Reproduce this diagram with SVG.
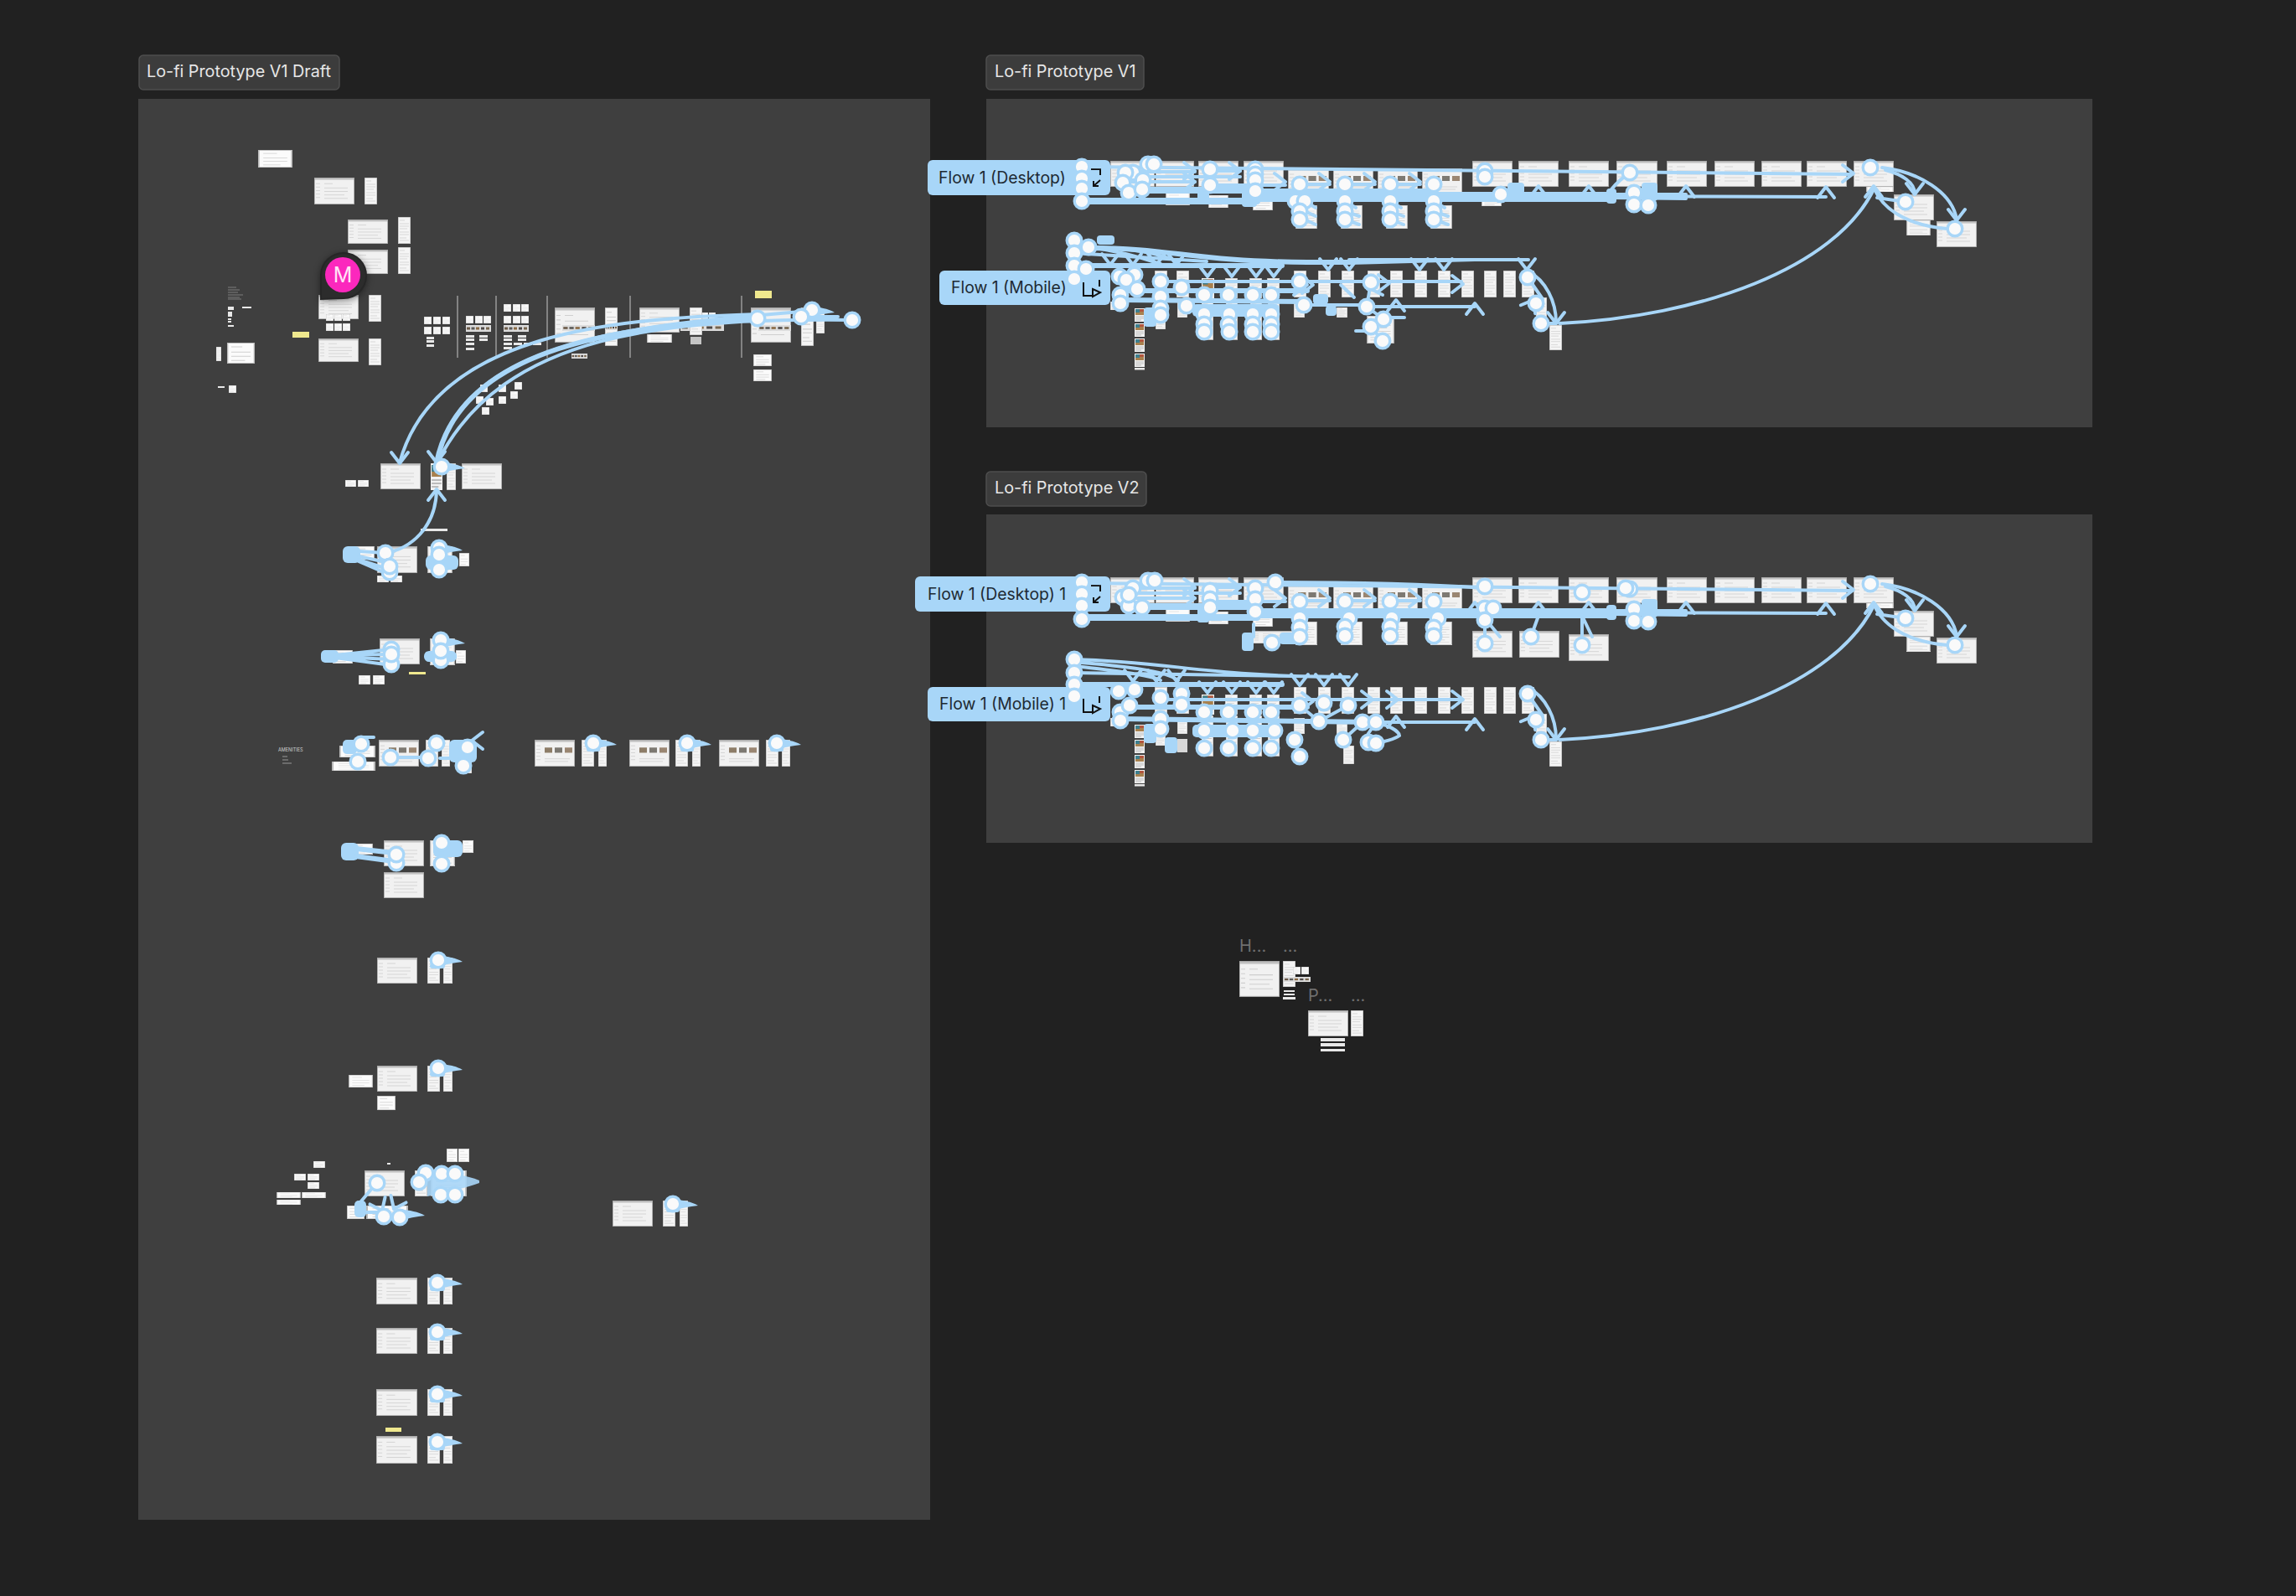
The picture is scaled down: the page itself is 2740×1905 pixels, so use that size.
<svg xmlns="http://www.w3.org/2000/svg" width="2740" height="1905" viewBox="0 0 2740 1905">
<style>
text{font-family:Inter,"Noto Sans","Liberation Sans",sans-serif}
.panel{fill:#3f3f3f}
.pill{fill:#3c3c3c;stroke:#4e4e4e;stroke-width:1.5}
.pt{font-size:19.800px;fill:#e6e6e6}
.flow{fill:#a8d6f8}
.ft{font-size:19.400px;fill:#1e2a33}
.gt{font-size:20px;fill:#6f6f6f}
.l{fill:none;stroke:#a8d6f8;stroke-width:4;stroke-linecap:round}
.w5{stroke-width:6}.w8{stroke-width:8}.w12{stroke-width:12}
.b{fill:#a8d6f8}
.o{fill:#fafafa;stroke:#a8d6f8;stroke-width:3.400;r:8.800px}
.ch{fill:none;stroke:#a8d6f8;stroke-width:4;stroke-linecap:round;stroke-linejoin:round}
.v{stroke:#9a9a9a;stroke-width:1.5}
.bar{fill:#e8e8e8}
.y{fill:#efe88e}
.ic{fill:none;stroke:#111;stroke-width:2}
</style>
<defs>
<symbol id="d" viewBox="0 0 48 31" preserveAspectRatio="none"><rect width="48" height="31" fill="#f1f1f1"/><rect width="48" height="2.600" fill="#c2c2c2"/><path d="M2 7h5M2 11h5M2 15h5M2 19h5M2 23h5M12 7h10M12 12h28M12 16h28M12 20h24M12 24h28" stroke="#cfcfcf" stroke-width=".8"/><rect x=".4" y=".4" width="47.200" height="30.200" fill="none" stroke="#a6a6a6" stroke-width=".8"/></symbol>
<symbol id="dp" viewBox="0 0 48 31" preserveAspectRatio="none"><rect width="48" height="31" fill="#f1f1f1"/><rect width="48" height="2.600" fill="#c2c2c2"/><path d="M2 7h5M2 11h5M2 15h5M2 19h5M2 23h5M12 22h30M12 25h28" stroke="#cfcfcf" stroke-width=".8"/><rect x="12" y="9" width="9" height="6" fill="#8d7d68"/><rect x="24" y="9" width="9" height="6" fill="#7d7972"/><rect x="36" y="9" width="9" height="6" fill="#9a8672"/><rect x=".4" y=".4" width="47.200" height="30.200" fill="none" stroke="#a6a6a6" stroke-width=".8"/></symbol>
<symbol id="m" viewBox="0 0 15 32" preserveAspectRatio="none"><rect width="15" height="32" fill="#f5f5f5"/><path d="M2 4h6M2 8h11M2 11h11M2 14h9M2 18h11M2 21h11M2 25h8M2 28h11" stroke="#cdcdcd" stroke-width=".7"/><rect x=".3" y=".3" width="14.400" height="31.400" fill="none" stroke="#b0b0b0" stroke-width=".6"/></symbol>
<symbol id="c" viewBox="0 0 10 10" preserveAspectRatio="none"><rect width="10" height="10" fill="#fbfbfb"/><path d="M1.500 2h4M1.500 4.500h7M1.500 6.500h7M1.500 8.500h5" stroke="#d0d0d0" stroke-width=".4"/><rect x=".2" y=".2" width="9.600" height="9.600" fill="none" stroke="#bbb" stroke-width=".4"/></symbol>
<symbol id="s" viewBox="0 0 30 8" preserveAspectRatio="none"><rect width="30" height="8" fill="#dcdcdc"/><rect x="1" y="2.500" width="4" height="3" fill="#6b5a48"/><rect x="6.500" y="2.500" width="4" height="3" fill="#5a5a58"/><rect x="12" y="2.500" width="4" height="3" fill="#8a6a44"/><rect x="18" y="2.500" width="4" height="3" fill="#4f4a48"/><rect x="24" y="2.500" width="4" height="3" fill="#77664f"/></symbol>
<symbol id="t" viewBox="0 0 12 16" preserveAspectRatio="none"><rect width="12" height="16" fill="#f2f2f2"/><rect x="1" y="1" width="10" height="7" fill="#a8814f"/><rect x="1" y="1" width="5" height="4" fill="#3e7f8e"/><rect x="6" y="1" width="5" height="3" fill="#b0563f"/><path d="M1 10h10M1 12h10M1 14h7" stroke="#aaa" stroke-width=".7"/></symbol>
<g id="cd"><path class="ch" d="M-10 -13L0 0L10 -13"/></g>
<g id="cu"><path class="ch" d="M-10 13L0 0L10 13"/></g>
<g id="cr"><path class="ch" d="M-13 -10L0 0L-13 10"/></g>
<g id="cl"><path class="ch" d="M13 -10L0 0L13 10"/></g>
<path id="st" class="b" d="M0 -6C12 -4 22 -3 30 2C20 3 10 5 0 8Z"/>
<g id="sharedScreens">
<use href="#d" x="1325" y="192" width="53" height="31"/><use href="#d" x="1379" y="192" width="46" height="31"/><use href="#d" x="1430" y="192" width="48" height="31"/><use href="#d" x="1484" y="192" width="48" height="31"/>
<use href="#dp" x="1537" y="201" width="49" height="31"/><use href="#dp" x="1591" y="201" width="48" height="31"/><use href="#dp" x="1644" y="201" width="48" height="31"/><use href="#dp" x="1697" y="201" width="48" height="31"/>
<use href="#d" x="1757" y="192" width="48" height="31"/><use href="#d" x="1812" y="192" width="48" height="31"/><use href="#d" x="1872" y="192" width="48" height="31"/><use href="#d" x="1929" y="192" width="49" height="31"/><use href="#d" x="1989" y="192" width="48" height="31"/><use href="#d" x="2046" y="192" width="48" height="31"/><use href="#d" x="2102" y="192" width="48" height="31"/><use href="#d" x="2156" y="192" width="48" height="31"/><use href="#d" x="2212" y="192" width="48" height="31"/>
<use href="#c" x="2227" y="223" width="33" height="6"/><use href="#d" x="2260" y="232" width="48" height="31"/><use href="#m" x="2275" y="263" width="29" height="18"/><use href="#d" x="2311" y="264" width="48" height="31"/>
<use href="#c" x="1391" y="230" width="29" height="15"/><use href="#m" x="1442" y="233" width="24" height="15"/><use href="#c" x="1495" y="235" width="24" height="16"/>
<use href="#m" x="1546" y="245" width="26" height="28"/><use href="#m" x="1600" y="245" width="26" height="28"/><use href="#m" x="1654" y="245" width="26" height="28"/><use href="#m" x="1707" y="245" width="26" height="28"/>
<use href="#m" x="1378" y="323" width="15" height="32"/><use href="#m" x="1404" y="323" width="15" height="32"/><use href="#t" x="1434" y="332" width="15" height="24"/><use href="#m" x="1462" y="332" width="15" height="24"/><use href="#m" x="1491" y="332" width="15" height="24"/><use href="#m" x="1512" y="332" width="15" height="24"/>
<use href="#m" x="1544" y="323" width="15" height="32"/><use href="#m" x="1573" y="323" width="15" height="32"/><use href="#m" x="1601" y="323" width="15" height="32"/><use href="#m" x="1632" y="323" width="15" height="32"/><use href="#m" x="1659" y="323" width="15" height="32"/><use href="#m" x="1688" y="323" width="15" height="32"/><use href="#m" x="1716" y="323" width="15" height="32"/><use href="#m" x="1744" y="323" width="15" height="32"/><use href="#m" x="1771" y="323" width="15" height="32"/><use href="#m" x="1794" y="323" width="15" height="32"/><use href="#m" x="1816" y="323" width="15" height="32"/>
<use href="#m" x="1325" y="360" width="15" height="10"/><use href="#t" x="1354" y="368" width="12" height="16"/><use href="#t" x="1354" y="386" width="12" height="16"/><use href="#t" x="1354" y="404" width="12" height="16"/><use href="#t" x="1354" y="422" width="12" height="16"/><rect class="bar" x="1354" y="439" width="12" height="2.500"/>
<use href="#m" x="1379" y="377" width="12" height="16"/><use href="#m" x="1405" y="360" width="12" height="19"/><use href="#m" x="1434" y="357" width="14" height="49"/><use href="#m" x="1463" y="357" width="14" height="49"/><use href="#m" x="1492" y="357" width="14" height="49"/><use href="#m" x="1513" y="357" width="14" height="49"/><use href="#m" x="1544" y="360" width="13" height="19"/>
<use href="#m" x="1833" y="355" width="13" height="32"/><use href="#m" x="1849" y="388" width="15" height="30"/>
</g>
<g id="endWires">
<path class="l" d="M1291 199C1500 199 1760 203 2210 208"/>
<path class="l" d="M1861 386C2030 378 2190 320 2236 226"/>
<path class="l" d="M2246 200C2290 205 2330 230 2335 262"/>
<path class="l" d="M2250 203C2270 208 2285 218 2285 231"/>
<path class="l" d="M2274 241L2240 236"/>
<path class="l" d="M2324 273C2285 270 2250 255 2237 226"/>
<use href="#cu" x="2236" y="222"/><use href="#cd" x="2335" y="263"/><use href="#cd" x="2285" y="232"/><use href="#cr" x="2212" y="207"/>
<path class="l" d="M1823 323C1845 335 1857 360 1857 385"/><path class="l" d="M1823 331L1841 357"/><path class="l" d="M1839 386L1857 386"/>
<use href="#cd" x="1857" y="386"/><use href="#cu" x="1830" y="358" transform="rotate(30 1830 358)"/>
<circle class="o" cx="2232" cy="200"/><circle class="o" cx="2274" cy="241"/><circle class="o" cx="2333" cy="273"/>
<circle class="o" cx="1823" cy="331"/><circle class="o" cx="1833" cy="362"/><circle class="o" cx="1839" cy="386"/>
</g>
</defs>
<rect width="2740" height="1905" fill="#212121"/>
<rect class="panel" x="165" y="118" width="945" height="1696"/>
<rect class="panel" x="1177" y="118" width="1320" height="392"/>
<rect class="panel" x="1177" y="614" width="1320" height="392"/>
<g id="title-draft"><rect class="pill" x="166" y="66" width="239" height="41" rx="5"/><text class="pt" x="175" y="92">Lo-fi Prototype V1 Draft</text></g>
<g id="title-v1"><rect class="pill" x="1177" y="66" width="188" height="41" rx="5"/><text class="pt" x="1187" y="92">Lo-fi Prototype V1</text></g>
<g id="title-v2"><rect class="pill" x="1177" y="563" width="191" height="41" rx="5"/><text class="pt" x="1187" y="589">Lo-fi Prototype V2</text></g>

<g id="draft-top">
<use href="#c" x="308" y="179" width="41" height="21"/>
<use href="#d" x="375" y="212" width="48" height="32"/><use href="#m" x="435" y="212" width="15" height="32"/>
<use href="#d" x="415" y="262" width="48" height="29"/><use href="#m" x="475" y="259" width="15" height="32"/>
<use href="#d" x="415" y="298" width="48" height="29"/><use href="#m" x="475" y="295" width="15" height="32"/>
<use href="#d" x="380" y="352" width="48" height="29"/><use href="#c" x="389" y="375" width="9" height="8"/><use href="#c" x="399" y="375" width="9" height="8"/><use href="#c" x="409" y="375" width="9" height="8"/><use href="#c" x="389" y="386" width="9" height="9"/><use href="#c" x="399" y="386" width="9" height="9"/><use href="#c" x="409" y="386" width="9" height="9"/><use href="#m" x="440" y="352" width="15" height="32"/>
<use href="#d" x="380" y="404" width="48" height="28"/><use href="#m" x="440" y="404" width="15" height="32"/>
<use href="#m" x="258" y="414" width="6" height="17"/><use href="#c" x="271" y="409" width="33" height="25"/>
<use href="#c" x="273" y="460" width="9" height="9"/><rect class="bar" x="260" y="461" width="8" height="2"/>
<rect class="y" x="349" y="396" width="20" height="7"/>
<path d="M272 343h10M272 346h14M272 349h12M272 352h18M272 355h14M272 357h16" stroke="#8e8e8e" stroke-width=".8"/>
<rect class="bar" x="272" y="366" width="7" height="4"/><rect class="bar" x="289" y="366" width="11" height="2"/><rect class="bar" x="272" y="372" width="5" height="6"/><rect class="bar" x="272" y="380" width="4" height="2"/><rect class="bar" x="272" y="383" width="4" height="2"/><rect class="bar" x="272" y="388" width="7" height="2"/>
</g>
<g id="draft-styles">
<path class="v" d="M546 353V427M592 353V427M653 353V427M752 353V427M885 353V427"/>
<use href="#c" x="506" y="378" width="9" height="9"/><use href="#c" x="517" y="378" width="9" height="9"/><use href="#c" x="528" y="378" width="9" height="9"/><use href="#c" x="506" y="390" width="9" height="9"/><use href="#c" x="517" y="390" width="9" height="9"/><use href="#c" x="528" y="390" width="9" height="9"/>
<rect class="bar" x="509" y="402" width="9" height="3"/><rect class="bar" x="509" y="406" width="9" height="3"/><rect class="bar" x="509" y="411" width="9" height="3"/>
<use href="#c" x="556" y="377" width="9" height="9"/><use href="#c" x="567" y="377" width="9" height="9"/><use href="#c" x="577" y="377" width="9" height="9"/><use href="#s" x="556" y="388" width="30" height="8"/>
<rect class="bar" x="556" y="400" width="10" height="3"/><rect class="bar" x="556" y="404" width="10" height="3"/><rect class="bar" x="556" y="409" width="10" height="3"/><rect class="bar" x="556" y="415" width="10" height="3"/><rect class="bar" x="572" y="400" width="10" height="3"/><rect class="bar" x="572" y="404" width="10" height="3"/>
<use href="#c" x="601" y="363" width="9" height="9"/><use href="#c" x="612" y="363" width="9" height="9"/><use href="#c" x="622" y="363" width="9" height="9"/><use href="#c" x="601" y="377" width="9" height="9"/><use href="#c" x="612" y="377" width="9" height="9"/><use href="#c" x="622" y="377" width="9" height="9"/><use href="#s" x="601" y="388" width="30" height="8"/>
<rect class="bar" x="601" y="400" width="10" height="3"/><rect class="bar" x="601" y="404" width="10" height="3"/><rect class="bar" x="618" y="400" width="10" height="3"/><rect class="bar" x="618" y="404" width="10" height="3"/><rect class="bar" x="601" y="409" width="10" height="3"/><rect class="bar" x="613" y="409" width="10" height="3"/><rect class="bar" x="625" y="409" width="10" height="3"/><rect class="bar" x="636" y="409" width="10" height="3"/><rect class="bar" x="601" y="414" width="10" height="3"/>
<use href="#d" x="662" y="367" width="48" height="42"/><use href="#s" x="671" y="388" width="39" height="7"/><use href="#m" x="722" y="367" width="15" height="46"/><use href="#s" x="722" y="388" width="15" height="6"/><use href="#s" x="682" y="422" width="19" height="6"/>
<use href="#d" x="763" y="367" width="48" height="30"/><use href="#c" x="772" y="399" width="30" height="10"/><use href="#s" x="812" y="387" width="52" height="8"/><use href="#m" x="823" y="367" width="15" height="33"/><rect x="824" y="402" width="13" height="9" fill="#c4c4c4"/><use href="#c" x="838" y="373" width="7" height="8"/><use href="#c" x="846" y="373" width="8" height="8"/>
<use href="#d" x="896" y="367" width="48" height="42"/><use href="#s" x="905" y="388" width="39" height="7"/><use href="#m" x="956" y="367" width="15" height="46"/><use href="#m" x="974" y="373" width="10" height="25"/>
<use href="#c" x="899" y="423" width="22" height="14"/><use href="#c" x="899" y="441" width="22" height="14"/><rect class="y" x="901" y="347" width="20" height="9"/>
<use href="#c" x="573" y="459" width="9" height="9"/><use href="#c" x="595" y="459" width="9" height="9"/><use href="#c" x="614" y="456" width="9" height="9"/><use href="#c" x="609" y="467" width="9" height="9"/><use href="#c" x="595" y="473" width="9" height="9"/><use href="#c" x="580" y="475" width="9" height="9"/><use href="#c" x="568" y="473" width="9" height="9"/><use href="#c" x="575" y="486" width="9" height="9"/>
</g>
<g id="draft-rows">
<use href="#d" x="454" y="553" width="48" height="31"/><use href="#t" x="514" y="553" width="14" height="32"/><use href="#m" x="533" y="553" width="11" height="32"/><use href="#d" x="551" y="553" width="48" height="31"/><use href="#c" x="412" y="573" width="13" height="8"/><use href="#c" x="427" y="573" width="13" height="8"/><rect class="bar" x="502" y="631" width="32" height="3"/>
<use href="#d" x="450" y="652" width="48" height="32"/><use href="#c" x="423" y="652" width="24" height="16"/><use href="#m" x="510" y="652" width="30" height="32"/><use href="#c" x="548" y="660" width="12" height="16"/><use href="#c" x="450" y="687" width="14" height="8"/><use href="#c" x="466" y="687" width="14" height="8"/>
<use href="#d" x="453" y="762" width="48" height="31"/><use href="#c" x="397" y="776" width="24" height="16"/><use href="#m" x="513" y="762" width="30" height="32"/><use href="#c" x="544" y="776" width="12" height="16"/><rect class="y" x="488" y="802" width="20" height="3"/><use href="#c" x="428" y="806" width="14" height="11"/><use href="#c" x="445" y="806" width="14" height="11"/>
<text x="332" y="897" font-size="5.500" fill="#cfcfcf">AMENITIES</text><path d="M337 903h6M337 907h7M337 911h11" stroke="#b0b0b0" stroke-width=".8"/>
<use href="#dp" x="452" y="883" width="48" height="32"/><use href="#c" x="405" y="890" width="43" height="14"/><use href="#c" x="396" y="909" width="52" height="11"/><use href="#m" x="508" y="883" width="15" height="32"/><use href="#m" x="527" y="883" width="10" height="32"/><use href="#m" x="554" y="905" width="9" height="18"/>
<use href="#dp" x="638" y="883" width="48" height="32"/><use href="#m" x="694" y="883" width="15" height="32"/><use href="#m" x="714" y="883" width="10" height="32"/>
<use href="#dp" x="751" y="883" width="48" height="32"/><use href="#m" x="806" y="883" width="15" height="32"/><use href="#m" x="826" y="883" width="10" height="32"/>
<use href="#dp" x="858" y="883" width="48" height="32"/><use href="#m" x="914" y="883" width="15" height="32"/><use href="#m" x="933" y="883" width="10" height="32"/>
<use href="#d" x="458" y="1003" width="48" height="31"/><use href="#d" x="458" y="1041" width="48" height="31"/><use href="#c" x="418" y="1007" width="27" height="13"/><use href="#m" x="513" y="1003" width="30" height="31"/><use href="#c" x="552" y="1003" width="13" height="15"/>
<use href="#d" x="450" y="1143" width="48" height="31"/><use href="#m" x="510" y="1143" width="15" height="31"/><use href="#m" x="529" y="1143" width="11" height="31"/>
<use href="#d" x="450" y="1272" width="48" height="31"/><use href="#m" x="510" y="1272" width="15" height="31"/><use href="#m" x="529" y="1272" width="11" height="31"/><use href="#c" x="416" y="1283" width="29" height="15"/><use href="#c" x="450" y="1308" width="22" height="17"/>
<use href="#d" x="435" y="1397" width="48" height="31"/><rect class="bar" x="462" y="1388" width="4" height="2"/><use href="#c" x="414" y="1439" width="21" height="16"/><use href="#c" x="437" y="1439" width="50" height="16"/><use href="#m" x="495" y="1397" width="15" height="31"/><use href="#m" x="514" y="1397" width="43" height="31"/><use href="#c" x="533" y="1371" width="13" height="16"/><use href="#c" x="547" y="1371" width="13" height="16"/>
<use href="#c" x="374" y="1386" width="14" height="8"/><use href="#c" x="351" y="1401" width="14" height="8"/><use href="#c" x="367" y="1401" width="14" height="8"/><use href="#c" x="367" y="1411" width="14" height="8"/><use href="#c" x="330" y="1423" width="29" height="7"/><use href="#c" x="360" y="1423" width="29" height="7"/><use href="#c" x="330" y="1432" width="29" height="6"/>
<use href="#d" x="731" y="1433" width="48" height="31"/><use href="#m" x="791" y="1433" width="15" height="31"/><use href="#m" x="811" y="1433" width="10" height="31"/>
<use href="#d" x="449" y="1525" width="49" height="32"/><use href="#m" x="510" y="1525" width="15" height="32"/><use href="#m" x="529" y="1525" width="11" height="32"/>
<use href="#d" x="449" y="1585" width="49" height="31"/><use href="#m" x="510" y="1585" width="15" height="31"/><use href="#m" x="529" y="1585" width="11" height="31"/>
<use href="#d" x="449" y="1658" width="49" height="32"/><use href="#m" x="510" y="1658" width="15" height="32"/><use href="#m" x="529" y="1658" width="11" height="32"/>
<rect class="y" x="460" y="1704" width="19" height="5"/><use href="#d" x="449" y="1714" width="49" height="33"/><use href="#m" x="510" y="1714" width="15" height="33"/><use href="#m" x="529" y="1714" width="11" height="33"/>
</g>
<g id="loose-screens">
<text class="gt" x="1479" y="1136">H...</text><text class="gt" x="1531" y="1136">...</text>
<use href="#d" x="1479" y="1147" width="48" height="43"/><use href="#m" x="1531" y="1147" width="15" height="31"/><use href="#c" x="1543" y="1154" width="9" height="9"/><use href="#c" x="1553" y="1154" width="9" height="9"/><use href="#s" x="1532" y="1166" width="32" height="6"/><rect class="bar" x="1532" y="1182" width="13" height="2"/><rect class="bar" x="1532" y="1186" width="13" height="2"/><rect class="bar" x="1531" y="1190" width="15" height="3"/>
<text class="gt" x="1561" y="1195">P...</text><text class="gt" x="1612" y="1195">...</text>
<use href="#d" x="1561" y="1206" width="48" height="31"/><use href="#m" x="1612" y="1206" width="15" height="31"/><rect class="bar" x="1576" y="1239" width="29" height="4"/><rect class="bar" x="1576" y="1245" width="29" height="4"/><rect class="bar" x="1576" y="1252" width="29" height="3"/>
</g>

<g id="screens-v1"><use href="#sharedScreens"/><use href="#m" x="1595" y="367" width="13" height="12"/><use href="#m" x="1631" y="377" width="33" height="33"/><use href="#c" x="1768" y="235" width="24" height="11"/></g>
<g id="screens-v2"><use href="#sharedScreens" y="497"/><use href="#d" x="1757" y="753" width="48" height="32"/><use href="#d" x="1813" y="753" width="48" height="32"/><use href="#d" x="1872" y="757" width="48" height="32"/><use href="#d" x="1495" y="753" width="48" height="15"/><rect x="1405" y="882" width="12" height="16" fill="#d8d8d8"/><use href="#m" x="1603" y="890" width="13" height="22"/><use href="#m" x="1595" y="864" width="13" height="20"/></g>

<g id="flow-labels">
<g id="flow-v1-desktop"><rect class="flow" x="1107" y="191" width="218" height="42" rx="6"/><text class="ft" x="1120" y="219">Flow 1 (Desktop)</text><path class="ic" d="M1302 202H1313V209M1305 222L1313 215M1305 216V222H1311"/></g>
<g id="flow-v1-mobile"><rect class="flow" x="1121" y="323" width="204" height="41" rx="6"/><text class="ft" x="1135" y="350">Flow 1 (Mobile)</text><path class="ic" d="M1293 337V353H1303M1304 345L1313 349L1304 354ZM1312 334V342"/></g>
<g id="flow-v2-desktop"><rect class="flow" x="1092" y="688" width="233" height="42" rx="6"/><text class="ft" x="1107" y="716">Flow 1 (Desktop) 1</text><path class="ic" d="M1302 699H1313V706M1305 719L1313 712M1305 713V719H1311"/></g>
<g id="flow-v2-mobile"><rect class="flow" x="1107" y="820" width="218" height="41" rx="6"/><text class="ft" x="1121" y="847">Flow 1 (Mobile) 1</text><path class="ic" d="M1293 834V850H1303M1304 842L1313 846L1304 851ZM1312 831V839"/></g>
</g>

<g id="connectors">
<g id="wires-draft">
<path class="l" d="M904 375C740 380 520 395 477 552"/><path class="l" d="M956 372C760 388 550 405 521 552"/><path class="l w5" d="M904 380C750 390 550 410 521 552"/><path class="l" d="M1017 382C800 380 600 395 522 552"/>
<use href="#cd" x="477" y="553"/><use href="#cd" x="521" y="552"/><use href="#cu" x="521" y="584"/>
<path class="l" d="M956 378H1000"/><use href="#st" x="966" y="371"/><use href="#st" x="525" y="557"/>
<path class="l" d="M460 660C490 655 520 630 521 585"/>
<rect class="b" x="409" y="652" width="21" height="20" rx="6"/><path class="l" d="M428 658L460 660M428 664L465 672M428 668L465 680M428 670L465 686"/><rect class="b" x="508" y="663" width="39" height="17" rx="6"/><use href="#st" x="522" y="655"/>
<rect class="b" x="383" y="776" width="21" height="15" rx="5"/><path class="l" d="M400 782L467 775M400 782L467 781M400 784L467 787M400 785L467 794"/><rect class="b" x="506" y="777" width="39" height="13" rx="6"/><use href="#st" x="525" y="766"/>
<rect class="b" x="409" y="883" width="17" height="17" rx="5"/><path class="l w5" d="M425 890L431 888M427 904H430"/><path class="l" d="M477 904H504M525 905H552M435 880L446 880"/><rect class="b" x="536" y="883" width="33" height="27" rx="6"/><use href="#cl" x="563" y="884"/>
<use href="#st" x="706" y="887"/><use href="#st" x="819" y="887"/><use href="#st" x="926" y="887"/><use href="#st" x="522" y="1146"/><use href="#st" x="522" y="1275"/><use href="#st" x="522" y="1531"/><use href="#st" x="522" y="1590"/><use href="#st" x="522" y="1664"/><use href="#st" x="522" y="1721"/><use href="#st" x="803" y="1437"/>
<rect class="b" x="407" y="1006" width="21" height="21" rx="6"/><path class="l w5" d="M425 1013L470 1018M425 1022L470 1028"/><rect class="b" x="517" y="1003" width="35" height="20" rx="6"/>
<rect class="b" x="513" y="1150" width="18" height="6" rx="3"/><rect class="b" x="513" y="1279" width="18" height="6" rx="3"/><rect class="b" x="700" y="892" width="16" height="5" rx="2.500"/><rect class="b" x="812" y="892" width="16" height="5" rx="2.500"/><rect class="b" x="919" y="892" width="16" height="5" rx="2.500"/><rect class="b" x="795" y="1441" width="16" height="6" rx="3"/><rect class="b" x="513" y="1535" width="18" height="6" rx="3"/><rect class="b" x="513" y="1594" width="18" height="6" rx="3"/><rect class="b" x="513" y="1668" width="18" height="6" rx="3"/><rect class="b" x="513" y="1725" width="18" height="6" rx="3"/>
<rect class="b" x="423" y="1433" width="14" height="20" rx="5"/><path class="l" d="M430 1435L446 1416M437 1447H455"/><use href="#cd" x="456" y="1445" transform="rotate(-25 456 1445)"/><use href="#cd" x="470" y="1443" transform="rotate(25 470 1443)"/><use href="#st" x="477" y="1449"/>
<path class="b" d="M510 1398Q550 1400 572 1409L572 1412Q550 1420 510 1428Z" fill-opacity=".9"/>
</g>
<g id="wires-v1">
<use href="#endWires"/>
<path class="l" d="M1345 205H1426M1345 211H1480M1345 217H1426M1444 204H1480M1444 221H1534M1550 220H1587M1605 220H1641M1659 220H1695M1345 227H1711"/>
<path class="l w8" d="M1291 240H1500"/><path class="l w8" d="M1345 227H1500"/><path class="l w12" d="M1500 235H1919"/>
<path class="l" d="M1925 234L2179 235M1925 232L2012 232M1925 236L2012 237"/><path class="l" d="M1923 226Q1932 215 1945 206"/>
<use href="#cu" x="2179" y="223"/><use href="#cu" x="2012" y="222"/><use href="#cu" x="1896" y="222"/><use href="#cu" x="1836" y="222"/>
<use href="#cr" x="1426" y="204"/><use href="#cr" x="1426" y="217"/><use href="#cr" x="1480" y="204"/><use href="#cr" x="1534" y="217"/><use href="#cr" x="1587" y="217"/><use href="#cr" x="1641" y="217"/><use href="#cr" x="1695" y="217"/>
<rect class="b" x="1429" y="228" width="14" height="16" rx="3"/><rect class="b" x="1482" y="225" width="18" height="22" rx="4"/><rect class="b" x="1799" y="218" width="20" height="14" rx="4"/><rect class="b" x="1917" y="225" width="12" height="18" rx="4"/><rect class="b" x="1959" y="218" width="19" height="22" rx="4"/>
<path class="l" d="M1557 240L1570 248M1557 252L1570 258M1557 262L1570 268M1605 240L1618 248M1605 252L1622 258M1605 262L1622 268M1659 240L1672 248M1659 252L1675 258M1659 262L1675 268M1711 240L1724 248M1711 252L1728 258M1711 262L1728 268"/>
<path class="l w5" d="M1299 296C1400 296 1420 312 1560 313H1610"/><path class="l" d="M1299 295C1350 295 1390 305 1406 312M1299 295C1340 300 1370 310 1385 315M1281 302L1440 312M1610 310H1824M1610 314L1760 310"/><path class="l w5" d="M1281 317H1530"/>
<rect class="b" x="1309" y="281" width="21" height="11" rx="4"/>
<use href="#cd" x="1441" y="330"/><use href="#cd" x="1470" y="330"/><use href="#cd" x="1499" y="330"/><use href="#cd" x="1520" y="330"/><use href="#cd" x="1325" y="316"/><use href="#cd" x="1352" y="316"/><use href="#cd" x="1380" y="316"/><use href="#cd" x="1404" y="316"/><use href="#cd" x="1585" y="322"/><use href="#cd" x="1610" y="322"/><use href="#cd" x="1694" y="322"/><use href="#cd" x="1723" y="322"/><use href="#cd" x="1822" y="322"/>
<path class="l" d="M1395 336H1744"/><path class="l w5" d="M1340 347H1560M1340 358L1560 360"/><path class="l" d="M1556 364H1631M1636 366H1760"/><use href="#cr" x="1746" y="339"/><use href="#cu" x="1760" y="362"/><use href="#cu" x="1666" y="358"/><use href="#cr" x="1567" y="340"/><use href="#cr" x="1658" y="338"/>
<rect class="b" x="1567" y="351" width="18" height="12" rx="4"/><rect class="b" x="1582" y="365" width="13" height="12" rx="4"/><rect class="b" x="1365" y="367" width="15" height="23" rx="4"/><rect class="b" x="1423" y="363" width="104" height="15" rx="5"/>
<path class="l" d="M1636 337L1631 366M1636 345L1650 352M1631 366L1651 381M1651 381L1636 390M1636 390L1650 407M1632 395H1618M1651 379L1676 379"/><path class="l" d="M1544 352L1560 340M1600 340L1616 355M1640 330L1632 345"/>
<circle class="o" cx="1291" cy="199"/><circle class="o" cx="1291" cy="213"/><circle class="o" cx="1291" cy="225"/><circle class="o" cx="1291" cy="240"/>
<circle class="o" cx="1282" cy="287"/><circle class="o" cx="1282" cy="302"/><circle class="o" cx="1282" cy="317"/><circle class="o" cx="1282" cy="333"/><circle class="o" cx="1299" cy="295"/><circle class="o" cx="1296" cy="321"/>
<circle class="o" cx="1352" cy="206"/><circle class="o" cx="1343" cy="206"/><circle class="o" cx="1340" cy="218"/><circle class="o" cx="1347" cy="230"/><circle class="o" cx="1364" cy="215"/><circle class="o" cx="1363" cy="226"/><circle class="o" cx="1370" cy="196"/><circle class="o" cx="1377" cy="196"/>
<circle class="o" cx="1444" cy="202"/><circle class="o" cx="1444" cy="221"/><circle class="o" cx="1498" cy="202"/><circle class="o" cx="1498" cy="208"/><circle class="o" cx="1498" cy="215"/><circle class="o" cx="1498" cy="228"/>
<circle class="o" cx="1551" cy="220"/><circle class="o" cx="1605" cy="220"/><circle class="o" cx="1659" cy="220"/><circle class="o" cx="1711" cy="220"/>
<circle class="o" cx="1546" cy="240"/><circle class="o" cx="1557" cy="240"/><circle class="o" cx="1551" cy="252"/><circle class="o" cx="1551" cy="262"/><circle class="o" cx="1605" cy="240"/><circle class="o" cx="1605" cy="252"/><circle class="o" cx="1605" cy="262"/><circle class="o" cx="1659" cy="240"/><circle class="o" cx="1659" cy="252"/><circle class="o" cx="1659" cy="262"/><circle class="o" cx="1711" cy="240"/><circle class="o" cx="1711" cy="252"/><circle class="o" cx="1711" cy="262"/>
<circle class="o" cx="1772" cy="204"/><circle class="o" cx="1772" cy="211"/><circle class="o" cx="1791" cy="232"/><circle class="o" cx="1945" cy="206"/><circle class="o" cx="1950" cy="230"/><circle class="o" cx="1950" cy="244"/><circle class="o" cx="1967" cy="245"/>
<circle class="o" cx="1336" cy="330"/><circle class="o" cx="1354" cy="328"/><circle class="o" cx="1344" cy="334"/><circle class="o" cx="1337" cy="352"/><circle class="o" cx="1357" cy="345"/><circle class="o" cx="1337" cy="362"/>
<circle class="o" cx="1385" cy="336"/><circle class="o" cx="1385" cy="354"/><circle class="o" cx="1385" cy="368"/><circle class="o" cx="1385" cy="376"/><circle class="o" cx="1410" cy="343"/><circle class="o" cx="1416" cy="365"/>
<circle class="o" cx="1437" cy="352"/><circle class="o" cx="1466" cy="352"/><circle class="o" cx="1495" cy="352"/><circle class="o" cx="1517" cy="352"/><circle class="o" cx="1437" cy="375"/><circle class="o" cx="1467" cy="375"/><circle class="o" cx="1495" cy="375"/><circle class="o" cx="1517" cy="375"/><circle class="o" cx="1437" cy="387"/><circle class="o" cx="1466" cy="387"/><circle class="o" cx="1495" cy="387"/><circle class="o" cx="1517" cy="387"/><circle class="o" cx="1437" cy="396"/><circle class="o" cx="1467" cy="396"/><circle class="o" cx="1495" cy="396"/><circle class="o" cx="1517" cy="396"/>
<circle class="o" cx="1551" cy="336"/><circle class="o" cx="1636" cy="337"/><circle class="o" cx="1556" cy="364"/><circle class="o" cx="1631" cy="366"/><circle class="o" cx="1651" cy="381"/><circle class="o" cx="1636" cy="390"/><circle class="o" cx="1650" cy="407"/>
</g>
<g id="wires-v2">
<g transform="translate(0 497)"><use href="#endWires"/></g>
<path class="l" d="M1522 695C1600 695 1700 697 1772 702M1345 702H1426M1345 708H1480M1345 714H1426M1444 701H1480M1444 718H1534M1550 717H1587M1605 717H1641M1659 717H1695"/>
<path class="l w8" d="M1291 737H1500"/><path class="l w8" d="M1345 724H1500"/><path class="l w12" d="M1500 732H1919"/><path class="l" d="M1925 731L2179 732M1925 729L2012 729M1925 733L2012 734"/>
<use href="#cu" x="2179" y="720"/><use href="#cu" x="2012" y="719"/><use href="#cu" x="1896" y="719"/><use href="#cu" x="1836" y="719"/><use href="#cu" x="1780" y="719"/><use href="#cu" x="1760" y="719"/>
<use href="#cr" x="1426" y="701"/><use href="#cr" x="1426" y="714"/><use href="#cr" x="1480" y="701"/><use href="#cr" x="1534" y="714"/><use href="#cr" x="1587" y="714"/><use href="#cr" x="1641" y="714"/><use href="#cr" x="1695" y="714"/>
<rect class="b" x="1429" y="725" width="14" height="18" rx="3"/><rect class="b" x="1482" y="755" width="14" height="22" rx="4"/><rect class="b" x="1527" y="755" width="26" height="14" rx="4"/><path class="l" d="M1772 738L1772 768M1772 738L1790 760M1836 735L1827 760M1888 735V770M1888 735L1900 760M1496 745V760"/>
<rect class="b" x="1917" y="722" width="12" height="18" rx="4"/><rect class="b" x="1959" y="715" width="19" height="22" rx="4"/><circle class="o" cx="1945" cy="703"/><circle class="o" cx="1950" cy="727"/><circle class="o" cx="1950" cy="741"/><circle class="o" cx="1967" cy="742"/>
<path class="l" d="M1281 787C1400 790 1440 808 1610 808M1281 790C1340 795 1390 800 1406 812M1281 795C1330 800 1370 805 1385 812M1281 803L1610 808"/><path class="l w5" d="M1281 817H1530"/>
<use href="#cd" x="1441" y="827"/><use href="#cd" x="1470" y="827"/><use href="#cd" x="1499" y="827"/><use href="#cd" x="1520" y="827"/><use href="#cd" x="1352" y="813"/><use href="#cd" x="1380" y="813"/><use href="#cd" x="1404" y="813"/><use href="#cd" x="1551" y="818"/><use href="#cd" x="1580" y="818"/><use href="#cd" x="1609" y="818"/>
<path class="l" d="M1395 835H1744"/><path class="l w5" d="M1340 844H1560M1340 858L1640 862"/><path class="l" d="M1642 862H1760"/><use href="#cr" x="1746" y="835"/><use href="#cu" x="1760" y="858"/><use href="#cu" x="1666" y="855"/><use href="#cr" x="1567" y="837"/><use href="#cr" x="1638" y="835"/><use href="#cr" x="1668" y="835"/>
<rect class="b" x="1423" y="865" width="104" height="15" rx="5"/><rect class="b" x="1365" y="864" width="15" height="23" rx="4"/><rect class="b" x="1390" y="880" width="15" height="19" rx="4"/>
<path class="l" d="M1626 862C1660 862 1670 875 1670 878C1665 882 1650 886 1642 887M1603 883L1626 862M1642 862L1630 880M1545 883L1551 903M1574 861L1551 842M1574 861L1609 842"/>
<circle class="o" cx="1291" cy="695"/><circle class="o" cx="1291" cy="709"/><circle class="o" cx="1291" cy="723"/><circle class="o" cx="1291" cy="739"/>
<circle class="o" cx="1282" cy="787"/><circle class="o" cx="1282" cy="803"/><circle class="o" cx="1282" cy="817"/><circle class="o" cx="1282" cy="831"/>
<circle class="o" cx="1352" cy="702"/><circle class="o" cx="1340" cy="713"/><circle class="o" cx="1347" cy="723"/><circle class="o" cx="1363" cy="725"/><circle class="o" cx="1370" cy="693"/><circle class="o" cx="1378" cy="693"/><circle class="o" cx="1347" cy="710"/>
<circle class="o" cx="1444" cy="705"/><circle class="o" cx="1444" cy="715"/><circle class="o" cx="1444" cy="725"/><circle class="o" cx="1498" cy="702"/><circle class="o" cx="1498" cy="715"/><circle class="o" cx="1498" cy="730"/><circle class="o" cx="1522" cy="695"/><circle class="o" cx="1518" cy="767"/>
<circle class="o" cx="1551" cy="718"/><circle class="o" cx="1605" cy="718"/><circle class="o" cx="1659" cy="718"/><circle class="o" cx="1711" cy="718"/>
<circle class="o" cx="1551" cy="738"/><circle class="o" cx="1551" cy="749"/><circle class="o" cx="1551" cy="760"/><circle class="o" cx="1610" cy="738"/><circle class="o" cx="1605" cy="748"/><circle class="o" cx="1605" cy="759"/><circle class="o" cx="1661" cy="738"/><circle class="o" cx="1659" cy="748"/><circle class="o" cx="1659" cy="759"/><circle class="o" cx="1716" cy="738"/><circle class="o" cx="1711" cy="749"/><circle class="o" cx="1711" cy="759"/>
<circle class="o" cx="1772" cy="700"/><circle class="o" cx="1772" cy="726"/><circle class="o" cx="1782" cy="726"/><circle class="o" cx="1772" cy="740"/><circle class="o" cx="1772" cy="768"/><circle class="o" cx="1827" cy="760"/><circle class="o" cx="1888" cy="707"/><circle class="o" cx="1888" cy="770"/><circle class="o" cx="1940" cy="702"/>
<circle class="o" cx="1337" cy="850"/><circle class="o" cx="1335" cy="825"/><circle class="o" cx="1354" cy="823"/><circle class="o" cx="1348" cy="842"/><circle class="o" cx="1337" cy="860"/><circle class="o" cx="1385" cy="833"/><circle class="o" cx="1385" cy="858"/><circle class="o" cx="1385" cy="870"/><circle class="o" cx="1410" cy="828"/><circle class="o" cx="1410" cy="841"/>
<circle class="o" cx="1437" cy="850"/><circle class="o" cx="1466" cy="850"/><circle class="o" cx="1495" cy="850"/><circle class="o" cx="1517" cy="850"/><circle class="o" cx="1437" cy="872"/><circle class="o" cx="1471" cy="872"/><circle class="o" cx="1495" cy="872"/><circle class="o" cx="1521" cy="872"/><circle class="o" cx="1437" cy="893"/><circle class="o" cx="1466" cy="893"/><circle class="o" cx="1495" cy="893"/><circle class="o" cx="1517" cy="893"/>
<circle class="o" cx="1551" cy="842"/><circle class="o" cx="1580" cy="839"/><circle class="o" cx="1609" cy="842"/><circle class="o" cx="1574" cy="861"/><circle class="o" cx="1626" cy="862"/><circle class="o" cx="1642" cy="862"/><circle class="o" cx="1603" cy="883"/><circle class="o" cx="1633" cy="886"/><circle class="o" cx="1642" cy="887"/><circle class="o" cx="1545" cy="883"/><circle class="o" cx="1551" cy="903"/>
</g>
<g id="dots-draft">
<circle class="o" cx="904" cy="380"/><circle class="o" cx="969" cy="370"/><circle class="o" cx="956" cy="378"/><circle class="o" cx="1017" cy="382"/><circle class="o" cx="527" cy="557"/>
<circle class="o" cx="460" cy="660"/><circle class="o" cx="465" cy="683"/><circle class="o" cx="465" cy="676"/><circle class="o" cx="524" cy="654"/><circle class="o" cx="524" cy="680"/><circle class="o" cx="524" cy="662"/>
<circle class="o" cx="467" cy="775"/><circle class="o" cx="467" cy="793"/><circle class="o" cx="467" cy="781"/><circle class="o" cx="526" cy="764"/><circle class="o" cx="526" cy="788"/><circle class="o" cx="526" cy="777"/>
<circle class="o" cx="431" cy="888"/><circle class="o" cx="427" cy="909"/><circle class="o" cx="466" cy="904"/><circle class="o" cx="521" cy="887"/><circle class="o" cx="511" cy="905"/><circle class="o" cx="558" cy="892"/><circle class="o" cx="553" cy="914"/>
<circle class="o" cx="708" cy="887"/><circle class="o" cx="820" cy="887"/><circle class="o" cx="927" cy="887"/>
<circle class="o" cx="473" cy="1030"/><circle class="o" cx="473" cy="1020"/><circle class="o" cx="527" cy="1006"/><circle class="o" cx="527" cy="1031"/>
<circle class="o" cx="523" cy="1146"/><circle class="o" cx="523" cy="1275"/>
<circle class="o" cx="450" cy="1412"/><circle class="o" cx="458" cy="1452"/><circle class="o" cx="477" cy="1453"/><circle class="o" cx="508" cy="1400"/><circle class="o" cx="527" cy="1401"/><circle class="o" cx="543" cy="1401"/><circle class="o" cx="500" cy="1411"/><circle class="o" cx="526" cy="1426"/><circle class="o" cx="543" cy="1426"/>
<circle class="o" cx="803" cy="1437"/><circle class="o" cx="522" cy="1531"/><circle class="o" cx="522" cy="1590"/><circle class="o" cx="522" cy="1664"/><circle class="o" cx="522" cy="1721"/>
</g>
</g>
<g id="avatar-m">
<path d="M383 357V328A27 27 0 1 1 410 356Z" fill="#2c2c2c" stroke="#262626" stroke-width="2" style="filter:drop-shadow(0 2px 4px rgba(0,0,0,.45))"/>
<circle cx="409" cy="328" r="21" fill="#fb28bd"/>
<text x="409" y="337" text-anchor="middle" font-size="25" fill="#ffe3f6">M</text>
</g>
</svg>
